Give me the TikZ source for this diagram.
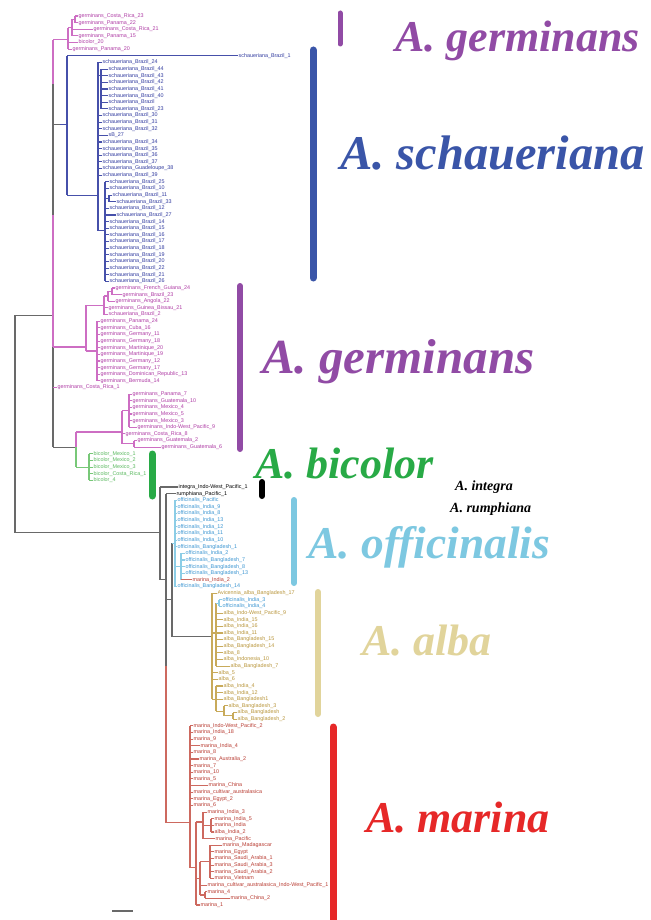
\documentclass[tikz,border=0pt]{standalone}
\usepackage{fontspec}
\setmainfont{Liberation Serif}
\newfontfamily\labf{Liberation Sans}
\definecolor{gtx}{RGB}{175,60,165}
\definecolor{gbr}{RGB}{205,110,195}
\definecolor{stx}{RGB}{50,60,160}
\definecolor{sbr}{RGB}{70,80,170}
\definecolor{btx}{RGB}{90,185,95}
\definecolor{bbr}{RGB}{120,200,120}
\definecolor{otx}{RGB}{60,150,210}
\definecolor{obr}{RGB}{140,205,230}
\definecolor{atx}{RGB}{185,150,60}
\definecolor{abr}{RGB}{200,170,90}
\definecolor{mtx}{RGB}{185,60,50}
\definecolor{mbr}{RGB}{205,105,95}
\definecolor{gry}{RGB}{105,105,105}
\definecolor{bpu}{RGB}{145,75,165}
\definecolor{bbl}{RGB}{58,85,168}
\definecolor{bgr}{RGB}{40,170,70}
\definecolor{blb}{RGB}{125,200,225}
\definecolor{btn}{RGB}{225,212,155}
\definecolor{brd}{RGB}{230,40,40}
\tikzset{
  lf/.style={anchor=west, inner sep=0.4pt, font=\labf\fontsize{5.4}{5.4}\selectfont},
  br/.style={line width=1.1pt},
  bar/.style={line width=6pt, line cap=round},
  big/.style={anchor=base west, inner sep=0pt, font=\fontsize{44}{44}\selectfont\bfseries\itshape},
  small/.style={anchor=base west, inner sep=0pt, font=\fontsize{14}{14}\selectfont\bfseries\itshape}
}
\newcommand\Lf[4]{\node[lf,text=#3] (L#1) at (#2,#1) {#4};}
\begin{document}
\begin{tikzpicture}[x=1pt,y=-1pt]
\fill[white] (0,0) rectangle (650,920);
\useasboundingbox (0,0) rectangle (650,920);
\begin{scope}[yshift=-16pt, y=-6.634pt]
% ---------- leaves ----------
\Lf{0}{78}{gtx}{germinans\_Costa\_Rica\_23}
\Lf{1}{78}{gtx}{germinans\_Panama\_22}
\Lf{2}{93}{gtx}{germinans\_Costa\_Rica\_21}
\Lf{3}{78}{gtx}{germinans\_Panama\_15}
\Lf{4}{78}{gtx}{bicolor\_20}
\Lf{5}{72}{gtx}{germinans\_Panama\_20}
\Lf{6}{238}{stx}{schaueriana\_Brazil\_1}
\Lf{7}{102}{stx}{schaueriana\_Brazil\_24}
\Lf{8}{108}{stx}{schaueriana\_Brazil\_44}
\Lf{9}{108}{stx}{schaueriana\_Brazil\_43}
\Lf{10}{108}{stx}{schaueriana\_Brazil\_42}
\Lf{11}{108}{stx}{schaueriana\_Brazil\_41}
\Lf{12}{108}{stx}{schaueriana\_Brazil\_40}
\Lf{13}{108}{stx}{schaueriana\_Brazil}
\Lf{14}{108}{stx}{schaueriana\_Brazil\_23}
\Lf{15}{102}{stx}{schaueriana\_Brazil\_30}
\Lf{16}{102}{stx}{schaueriana\_Brazil\_31}
\Lf{17}{102}{stx}{schaueriana\_Brazil\_32}
\Lf{18}{108}{stx}{sB\_27}
\Lf{19}{102}{stx}{schaueriana\_Brazil\_34}
\Lf{20}{102}{stx}{schaueriana\_Brazil\_35}
\Lf{21}{102}{stx}{schaueriana\_Brazil\_36}
\Lf{22}{102}{stx}{schaueriana\_Brazil\_37}
\Lf{23}{102}{stx}{schaueriana\_Guadeloupe\_38}
\Lf{24}{102}{stx}{schaueriana\_Brazil\_39}
\Lf{25}{109}{stx}{schaueriana\_Brazil\_25}
\Lf{26}{109}{stx}{schaueriana\_Brazil\_10}
\Lf{27}{112}{stx}{schaueriana\_Brazil\_11}
\Lf{28}{116}{stx}{schaueriana\_Brazil\_33}
\Lf{29}{109}{stx}{schaueriana\_Brazil\_12}
\Lf{30}{116}{stx}{schaueriana\_Brazil\_27}
\Lf{31}{109}{stx}{schaueriana\_Brazil\_14}
\Lf{32}{109}{stx}{schaueriana\_Brazil\_15}
\Lf{33}{109}{stx}{schaueriana\_Brazil\_16}
\Lf{34}{109}{stx}{schaueriana\_Brazil\_17}
\Lf{35}{109}{stx}{schaueriana\_Brazil\_18}
\Lf{36}{109}{stx}{schaueriana\_Brazil\_19}
\Lf{37}{109}{stx}{schaueriana\_Brazil\_20}
\Lf{38}{109}{stx}{schaueriana\_Brazil\_22}
\Lf{39}{109}{stx}{schaueriana\_Brazil\_21}
\Lf{40}{109}{stx}{schaueriana\_Brazil\_26}
\Lf{41}{115}{gtx}{germinans\_French\_Guiana\_24}
\Lf{42}{122}{gtx}{germinans\_Brazil\_23}
\Lf{43}{115}{gtx}{germinans\_Angola\_22}
\Lf{44}{108}{gtx}{germinans\_Guinea\_Bissau\_21}
\Lf{45}{108}{gtx}{schaueriana\_Brazil\_2}
\Lf{46}{100}{gtx}{germinans\_Panama\_24}
\Lf{47}{100}{gtx}{germinans\_Cuba\_16}
\Lf{48}{100}{gtx}{germinans\_Germany\_11}
\Lf{49}{100}{gtx}{germinans\_Germany\_18}
\Lf{50}{100}{gtx}{germinans\_Martinique\_20}
\Lf{51}{100}{gtx}{germinans\_Martinique\_19}
\Lf{52}{100}{gtx}{germinans\_Germany\_12}
\Lf{53}{100}{gtx}{germinans\_Germany\_17}
\Lf{54}{100}{gtx}{germinans\_Dominican\_Republic\_13}
\Lf{55}{100}{gtx}{germinans\_Bermuda\_14}
\Lf{56}{57}{gtx}{germinans\_Costa\_Rica\_1}
\Lf{57}{132}{gtx}{germinans\_Panama\_7}
\Lf{58}{132}{gtx}{germinans\_Guatemala\_10}
\Lf{59}{132}{gtx}{germinans\_Mexico\_4}
\Lf{60}{132}{gtx}{germinans\_Mexico\_5}
\Lf{61}{132}{gtx}{germinans\_Mexico\_3}
\Lf{62}{137}{gtx}{germinans\_Indo-West\_Pacific\_9}
\Lf{63}{125}{gtx}{germinans\_Costa\_Rica\_8}
\Lf{64}{137}{gtx}{germinans\_Guatemala\_2}
\Lf{65}{161}{gtx}{germinans\_Guatemala\_6}
\Lf{66}{93}{btx}{bicolor\_Mexico\_1}
\Lf{67}{93}{btx}{bicolor\_Mexico\_2}
\Lf{68}{93}{btx}{bicolor\_Mexico\_3}
\Lf{69}{93}{btx}{bicolor\_Costa\_Rica\_1}
\Lf{70}{93}{btx}{bicolor\_4}
\Lf{71}{178}{black}{integra\_Indo-West\_Pacific\_1}
\Lf{72}{176}{black}{rumphiana\_Pacific\_1}
\Lf{73}{177}{otx}{officinalis\_Pacific}
\Lf{74}{177}{otx}{officinalis\_India\_9}
\Lf{75}{177}{otx}{officinalis\_India\_8}
\Lf{76}{177}{otx}{officinalis\_India\_13}
\Lf{77}{177}{otx}{officinalis\_India\_12}
\Lf{78}{177}{otx}{officinalis\_India\_11}
\Lf{79}{177}{otx}{officinalis\_India\_10}
\Lf{80}{177}{otx}{officinalis\_Bangladesh\_1}
\Lf{81}{185}{otx}{officinalis\_India\_2}
\Lf{82}{185}{otx}{officinalis\_Bangladesh\_7}
\Lf{83}{185}{otx}{officinalis\_Bangladesh\_8}
\Lf{84}{185}{otx}{officinalis\_Bangladesh\_13}
\Lf{85}{192}{mtx}{marina\_India\_2}
\Lf{86}{177}{otx}{officinalis\_Bangladesh\_14}
\Lf{87}{217}{atx}{Avicennia\_alba\_Bangladesh\_17}
\Lf{88}{222}{otx}{officinalis\_India\_3}
\Lf{89}{222}{otx}{officinalis\_India\_4}
\Lf{90}{223}{atx}{alba\_Indo-West\_Pacific\_9}
\Lf{91}{223}{atx}{alba\_India\_15}
\Lf{92}{223}{atx}{alba\_India\_16}
\Lf{93}{223}{atx}{alba\_India\_11}
\Lf{94}{223}{atx}{alba\_Bangladesh\_15}
\Lf{95}{223}{atx}{alba\_Bangladesh\_14}
\Lf{96}{223}{atx}{alba\_8}
\Lf{97}{223}{atx}{alba\_Indonesia\_10}
\Lf{98}{230}{atx}{alba\_Bangladesh\_7}
\Lf{99}{218}{atx}{alba\_5}
\Lf{100}{218}{atx}{alba\_6}
\Lf{101}{223}{atx}{alba\_India\_4}
\Lf{102}{223}{atx}{alba\_India\_12}
\Lf{103}{223}{atx}{alba\_Bangladesh1}
\Lf{104}{228}{atx}{alba\_Bangladesh\_3}
\Lf{105}{237}{atx}{alba\_Bangladesh}
\Lf{106}{237}{atx}{alba\_Bangladesh\_2}
\Lf{107}{193}{mtx}{marina\_Indo-West\_Pacific\_2}
\Lf{108}{193}{mtx}{marina\_India\_18}
\Lf{109}{193}{mtx}{marina\_9}
\Lf{110}{200}{mtx}{marina\_India\_4}
\Lf{111}{193}{mtx}{marina\_8}
\Lf{112}{199}{mtx}{marina\_Australia\_2}
\Lf{113}{193}{mtx}{marina\_7}
\Lf{114}{193}{mtx}{marina\_10}
\Lf{115}{193}{mtx}{marina\_5}
\Lf{116}{208}{mtx}{marina\_China}
\Lf{117}{193}{mtx}{marina\_cultivar\_australasica}
\Lf{118}{193}{mtx}{marina\_Egypt\_2}
\Lf{119}{193}{mtx}{marina\_6}
\Lf{120}{207}{mtx}{marina\_India\_3}
\Lf{121}{214}{mtx}{marina\_India\_5}
\Lf{122}{214}{mtx}{marina\_India}
\Lf{123}{214}{mtx}{alba\_India\_2}
\Lf{124}{215}{mtx}{marina\_Pacific}
\Lf{125}{222}{mtx}{marina\_Madagascar}
\Lf{126}{214}{mtx}{marina\_Egypt}
\Lf{127}{214}{mtx}{marina\_Saudi\_Arabia\_1}
\Lf{128}{214}{mtx}{marina\_Saudi\_Arabia\_3}
\Lf{129}{214}{mtx}{marina\_Saudi\_Arabia\_2}
\Lf{130}{214}{mtx}{marina\_Vietnam}
\Lf{131}{207}{mtx}{marina\_cultivar\_australasica\_Indo-West\_Pacific\_1}
\Lf{132}{207}{mtx}{marina\_4}
\Lf{133}{230}{mtx}{marina\_China\_2}
\Lf{134}{200}{mtx}{marina\_1}
% ---------- backbone ----------
\draw[br,gry] (15,45.1) -- (15,77.9);
\draw[br,gry] (15,45.1) -- (53,45.1);
\draw[br,gry] (15,77.9) -- (160,77.9);
\draw[br,gbr] (53,3.6) -- (53,10.3);
\draw[br,gry] (53,10.3) -- (53,30);
\draw[br,gbr] (53,30) -- (53,49.9);
\draw[br,gry] (53,49.9) -- (53,65);
% ---------- top germinans ----------
\draw[br,gbr] (53,3.6) -- (68,3.6);
\draw[br,gbr] (68,1.75) -- (68,5);
\draw[br,gbr] (68,4) -- (L4.west);
\draw[br,gbr] (68,5) -- (L5.west);
\draw[br,gbr] (68,1.75) -- (72,1.75);
\draw[br,gbr] (72,0.5) -- (72,3);
\draw[br,gbr] (72,2) -- (L2.west);
\draw[br,gbr] (72,3) -- (L3.west);
\draw[br,gbr] (72,0.5) -- (75,0.5);
\draw[br,gbr] (75,0) -- (75,1);
\draw[br,gbr] (75,0) -- (L0.west);
\draw[br,gbr] (75,1) -- (L1.west);
% ---------- schaueriana ----------
\draw[br,gry] (53,16.3) -- (60,16.3);
\draw[br,sbr] (60,16.3) -- (67,16.3);
\draw[br,sbr] (67,6) -- (67,27);
\draw[br,sbr] (67,6) -- (L6.west);
\draw[br,sbr] (67,27) -- (98,27);
\draw[br,sbr] (98,7) -- (98,32.4);
\draw[br,sbr] (98,7) -- (L7.west);
\draw[br,sbr] (98,9) -- (101,9);
\draw[br,sbr] (101,8) -- (101,14);
\foreach \i in {8,...,14} \draw[br,sbr] (101,\i) -- (L\i.west);
\foreach \i in {15,...,24} \draw[br,sbr] (98,\i) -- (L\i.west);
\draw[br,sbr] (98,32.4) -- (105,32.4);
\draw[br,sbr] (105,25) -- (105,40);
\foreach \i in {25,26,29,30,31,32,33,34,35,36,37,38,39,40} \draw[br,sbr] (105,\i) -- (L\i.west);
\draw[br,sbr] (105,27.5) -- (109,27.5);
\draw[br,sbr] (109,27) -- (109,28);
\draw[br,sbr] (109,27) -- (L27.west);
\draw[br,sbr] (109,28) -- (L28.west);
% ---------- germinans 2 ----------
\draw[br,gbr] (53,49.9) -- (86,49.9);
\draw[br,gbr] (86,43.6) -- (86,50.5);
\draw[br,gbr] (86,43.6) -- (104,43.6);
\draw[br,gbr] (104,42.2) -- (104,45);
\draw[br,gbr] (104,44) -- (L44.west);
\draw[br,gbr] (104,45) -- (L45.west);
\draw[br,gbr] (104,42.2) -- (108,42.2);
\draw[br,gbr] (108,41.5) -- (108,43);
\draw[br,gbr] (108,43) -- (L43.west);
\draw[br,gbr] (108,41.5) -- (112,41.5);
\draw[br,gbr] (112,41) -- (112,42);
\draw[br,gbr] (112,41) -- (L41.west);
\draw[br,gbr] (112,42) -- (L42.west);
\draw[br,gbr] (86,50.5) -- (97,50.5);
\draw[br,gbr] (97,46) -- (97,55);
\foreach \i in {46,...,55} \draw[br,gbr] (97,\i) -- (L\i.west);
\draw[br,gbr] (53,56) -- (L56.west);
% ---------- germinans 3 + bicolor ----------
\draw[br,gry] (53,65) -- (76,65);
\draw[br,gbr] (76,62.7) -- (76,65);
\draw[br,bbr] (76,65) -- (76,68);
\draw[br,gbr] (76,62.7) -- (122,62.7);
\draw[br,gbr] (122,59.5) -- (122,64.5);
\draw[br,gbr] (122,59.5) -- (129,59.5);
\draw[br,gbr] (129,57) -- (129,62);
\foreach \i in {57,...,62} \draw[br,gbr] (129,\i) -- (L\i.west);
\draw[br,gbr] (122,63) -- (L63.west);
\draw[br,gbr] (122,64.5) -- (134,64.5);
\draw[br,gbr] (134,64) -- (134,65);
\draw[br,gbr] (134,64) -- (L64.west);
\draw[br,gbr] (134,65) -- (L65.west);
\draw[br,bbr] (76,68) -- (89,68);
\draw[br,bbr] (89,66) -- (89,70);
\foreach \i in {66,...,70} \draw[br,bbr] (89,\i) -- (L\i.west);
% ---------- lower clade ----------
\draw[br,gry] (160,71) -- (160,85);
\draw[br,gry] (160,71) -- (L71.west);
\draw[br,gry] (160,85) -- (166,85);
\draw[br,gry] (166,72) -- (166,98);
\draw[br,mbr] (166,98) -- (166,121.6);
\draw[br,gry] (166,72) -- (L72.west);
\draw[br,gry] (166,88) -- (172,88);
\draw[br,gry] (172,79.5) -- (172,93.6);
\draw[br,obr] (172,79.5) -- (175,79.5);
\draw[br,obr] (175,73) -- (175,86);
\foreach \i in {73,...,80,86} \draw[br,obr] (175,\i) -- (L\i.west);
\draw[br,obr] (175,83) -- (181,83);
\draw[br,obr] (181,81) -- (181,85);
\foreach \i in {81,...,84} \draw[br,obr] (181,\i) -- (L\i.west);
\draw[br,mbr] (181,85) -- (L85.west);
% alba
\draw[br,gry] (172,93.6) -- (212,93.6);
\draw[br,abr] (212,87) -- (212,103);
\draw[br,abr] (212,87) -- (L87.west);
\draw[br,abr] (212,93) -- (216,93);
\draw[br,abr] (216,88.5) -- (216,98);
\draw[br,obr] (216,88.5) -- (219,88.5);
\draw[br,obr] (219,88) -- (219,89);
\draw[br,obr] (219,88) -- (L88.west);
\draw[br,obr] (219,89) -- (L89.west);
\foreach \i in {90,...,98} \draw[br,abr] (216,\i) -- (L\i.west);
\draw[br,abr] (212,99) -- (L99.west);
\draw[br,abr] (212,100) -- (L100.west);
\draw[br,abr] (212,103) -- (216,103);
\draw[br,abr] (216,101) -- (216,104.8);
\foreach \i in {101,102,103} \draw[br,abr] (216,\i) -- (L\i.west);
\draw[br,abr] (216,104.8) -- (224,104.8);
\draw[br,abr] (224,104) -- (224,105.5);
\draw[br,abr] (224,104) -- (L104.west);
\draw[br,abr] (224,105.5) -- (233,105.5);
\draw[br,abr] (233,105) -- (233,106);
\draw[br,abr] (233,105) -- (L105.west);
\draw[br,abr] (233,106) -- (L106.west);
% marina
\draw[br,mbr] (166,121.6) -- (190,121.6);
\draw[br,mbr] (190,107) -- (190,128.4);
\foreach \i in {107,...,119} \draw[br,mbr] (190,\i) -- (L\i.west);
\draw[br,mbr] (190,128.4) -- (196,128.4);
\draw[br,mbr] (196,121.5) -- (196,134);
\draw[br,mbr] (196,121.5) -- (203,121.5);
\draw[br,mbr] (203,120) -- (203,124);
\draw[br,mbr] (203,120) -- (L120.west);
\draw[br,mbr] (203,124) -- (L124.west);
\draw[br,mbr] (203,122) -- (211,122);
\draw[br,mbr] (211,121) -- (211,123);
\foreach \i in {121,122,123} \draw[br,mbr] (211,\i) -- (L\i.west);
\draw[br,mbr] (196,130) -- (200,130);
\draw[br,mbr] (200,127.5) -- (200,132.5);
\draw[br,mbr] (200,127.5) -- (210,127.5);
\draw[br,mbr] (210,125) -- (210,130);
\foreach \i in {125,...,130} \draw[br,mbr] (210,\i) -- (L\i.west);
\draw[br,mbr] (200,131) -- (L131.west);
\draw[br,mbr] (200,132.5) -- (205,132.5);
\draw[br,mbr] (205,132) -- (205,133);
\draw[br,mbr] (205,132) -- (L132.west);
\draw[br,mbr] (205,133) -- (L133.west);
\draw[br,mbr] (196,134) -- (L134.west);
\end{scope}
% ---------- bars ----------
\draw[bar,bpu,line width=5pt] (340,13) -- (340,44);
\draw[bar,bbl,line width=7pt] (313,50) -- (313,278);
\draw[bar,bpu] (240,286) -- (240,449);
\draw[bar,bgr,line width=7pt] (152,454) -- (152,496);
\draw[bar,black] (262,482) -- (262,496);
\draw[bar,blb] (294,500) -- (294,583);
\draw[bar,btn] (318,592) -- (318,714);
\draw[bar,brd,line width=7pt] (333,727) -- (333,925);
\draw[gry,line width=1.2pt] (112,911) -- (133,911);
% ---------- clade names ----------
\node[big,text=bpu] (ng1) at (395,52) {A. germinans};
\node[big,text=bbl,font=\fontsize{48.5}{48.5}\selectfont\bfseries\itshape] (ns) at (340,170) {A. schaueriana};
\node[big,text=bpu,font=\fontsize{49}{49}\selectfont\bfseries\itshape] (ng2) at (262,373) {A. germinans};
\node[big,text=bgr] (nb) at (255,478) {A. bicolor};
\node[small,text=black] (ni) at (455,490) {A. integra};
\node[small,text=black] (nr) at (450,512) {A. rumphiana};
\node[big,text=blb,font=\fontsize{45.5}{45.5}\selectfont\bfseries\itshape] (no) at (308,558) {A. officinalis};
\node[big,text=btn] (na) at (362,655) {A. alba};
\node[big,text=brd] (nm) at (366,832) {A. marina};
\end{tikzpicture}
\end{document}
